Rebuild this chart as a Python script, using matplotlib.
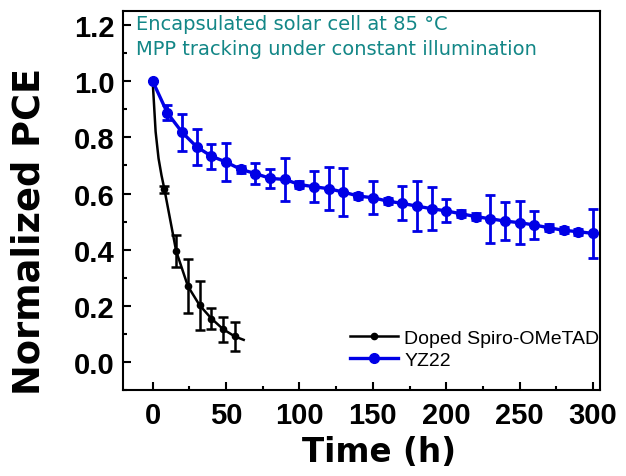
import matplotlib
matplotlib.use('Agg')
import matplotlib.pyplot as plt
from matplotlib.ticker import MultipleLocator, FormatStrFormatter
from matplotlib.lines import Line2D

plt.rcParams['font.family'] = ['Liberation Sans', 'DejaVu Sans']

# YZ22 (blue), one point every 10 h
yz22_t = [0, 10, 20, 30, 40, 50, 60, 70, 80, 90, 100, 110, 120, 130, 140, 150,
          160, 170, 180, 190, 200, 210, 220, 230, 240, 250, 260, 270, 280, 290, 300]
yz22_v = [1.000, 0.887, 0.818, 0.766, 0.733, 0.712, 0.686, 0.671, 0.654, 0.650,
          0.632, 0.624, 0.617, 0.605, 0.591, 0.585, 0.573, 0.565, 0.555, 0.546,
          0.538, 0.528, 0.518, 0.510, 0.502, 0.496, 0.488, 0.478, 0.469, 0.464, 0.458]
yz22_err = [0.0, 0.027, 0.065, 0.064, 0.044, 0.069, 0.012, 0.037, 0.034, 0.076,
            0.012, 0.056, 0.077, 0.086, 0.012, 0.059, 0.012, 0.060, 0.088, 0.076,
            0.041, 0.012, 0.012, 0.086, 0.069, 0.077, 0.049, 0.012, 0.010, 0.010, 0.088]

spiro_t = [0, 2, 4, 6, 8, 16, 24, 32, 40, 48, 56, 62]
spiro_v = [1.000, 0.820, 0.725, 0.665, 0.615, 0.395, 0.270, 0.202, 0.155, 0.117, 0.091, 0.079]
spiro_err = [0, 0, 0, 0, 0.012, 0.056, 0.097, 0.087, 0.036, 0.044, 0.053, 0]
spiro_marked = [0, 4, 5, 6, 7, 8, 9, 10]

black = 'black'
blue = '#0000e6'
teal = '#138787'

fig = plt.figure(figsize=(6.26, 4.77), dpi=100)
ax = fig.add_axes([0.197, 0.180, 0.762, 0.795])

# black series
ax.plot(spiro_t, spiro_v, color=black, lw=1.8, marker='o', ms=4.5,
        markevery=spiro_marked, zorder=3)
et = [spiro_t[i] for i in spiro_marked if spiro_err[i] > 0]
ev = [spiro_v[i] for i in spiro_marked if spiro_err[i] > 0]
ee = [spiro_err[i] for i in spiro_marked if spiro_err[i] > 0]
ax.errorbar(et, ev, yerr=ee, fmt='none', ecolor=black, elinewidth=1.8,
            capsize=3.6, capthick=1.8, zorder=3)

# blue series
ax.errorbar(yz22_t, yz22_v, yerr=yz22_err, color=blue, lw=2.4, marker='o', ms=7,
            elinewidth=2, capsize=3.6, capthick=2, zorder=4)

ax.set_xlim(-20, 305)
ax.set_ylim(-0.1, 1.25)
ax.xaxis.set_major_locator(MultipleLocator(50))
ax.xaxis.set_minor_locator(MultipleLocator(25))
ax.yaxis.set_major_locator(MultipleLocator(0.2))
ax.yaxis.set_minor_locator(MultipleLocator(0.1))
ax.yaxis.set_major_formatter(FormatStrFormatter('%.1f'))

for s in ax.spines.values():
    s.set_linewidth(1.5)
ax.tick_params(which='both', direction='in', width=1.5, top=False, right=False)
ax.tick_params(which='major', length=5.5, labelsize=21)
ax.tick_params(which='minor', length=3)
ax.tick_params(axis='y', pad=6)
ax.tick_params(axis='x', pad=8)
for lab in ax.get_xticklabels() + ax.get_yticklabels():
    lab.set_fontweight('bold')

ax.set_xlabel('Time (h)', fontsize=23.5, fontweight='bold', family='DejaVu Sans')
ax.xaxis.label.set_va('baseline')
ax.xaxis.set_label_coords(0.535, -0.187)
ax.set_ylabel('Normalized PCE', fontsize=26.5, fontweight='bold', family='DejaVu Sans')
ax.yaxis.label.set_va('center')
ax.yaxis.set_label_coords(-0.197, 0.422)

ax.text(0.027, 0.966, 'Encapsulated solar cell at 85 °C', transform=ax.transAxes,
        fontsize=14, color=teal, va='center', ha='left', family='DejaVu Sans')
ax.text(0.027, 0.900, 'MPP tracking under constant illumination', transform=ax.transAxes,
        fontsize=14, color=teal, va='center', ha='left', family='DejaVu Sans')

handles = [Line2D([], [], color=black, lw=1.8, marker='o', ms=4.5),
           Line2D([], [], color=blue, lw=2.4, marker='o', ms=7)]
labels = ['Doped Spiro-OMeTAD', 'YZ22']
ax.legend(handles, labels, loc='lower right', bbox_to_anchor=(0.998, 0.055),
          frameon=False, fontsize=14, borderpad=0, borderaxespad=0,
          handlelength=2.5, handletextpad=0.3, labelspacing=0.25)

fig.savefig('out.png', dpi=100)
